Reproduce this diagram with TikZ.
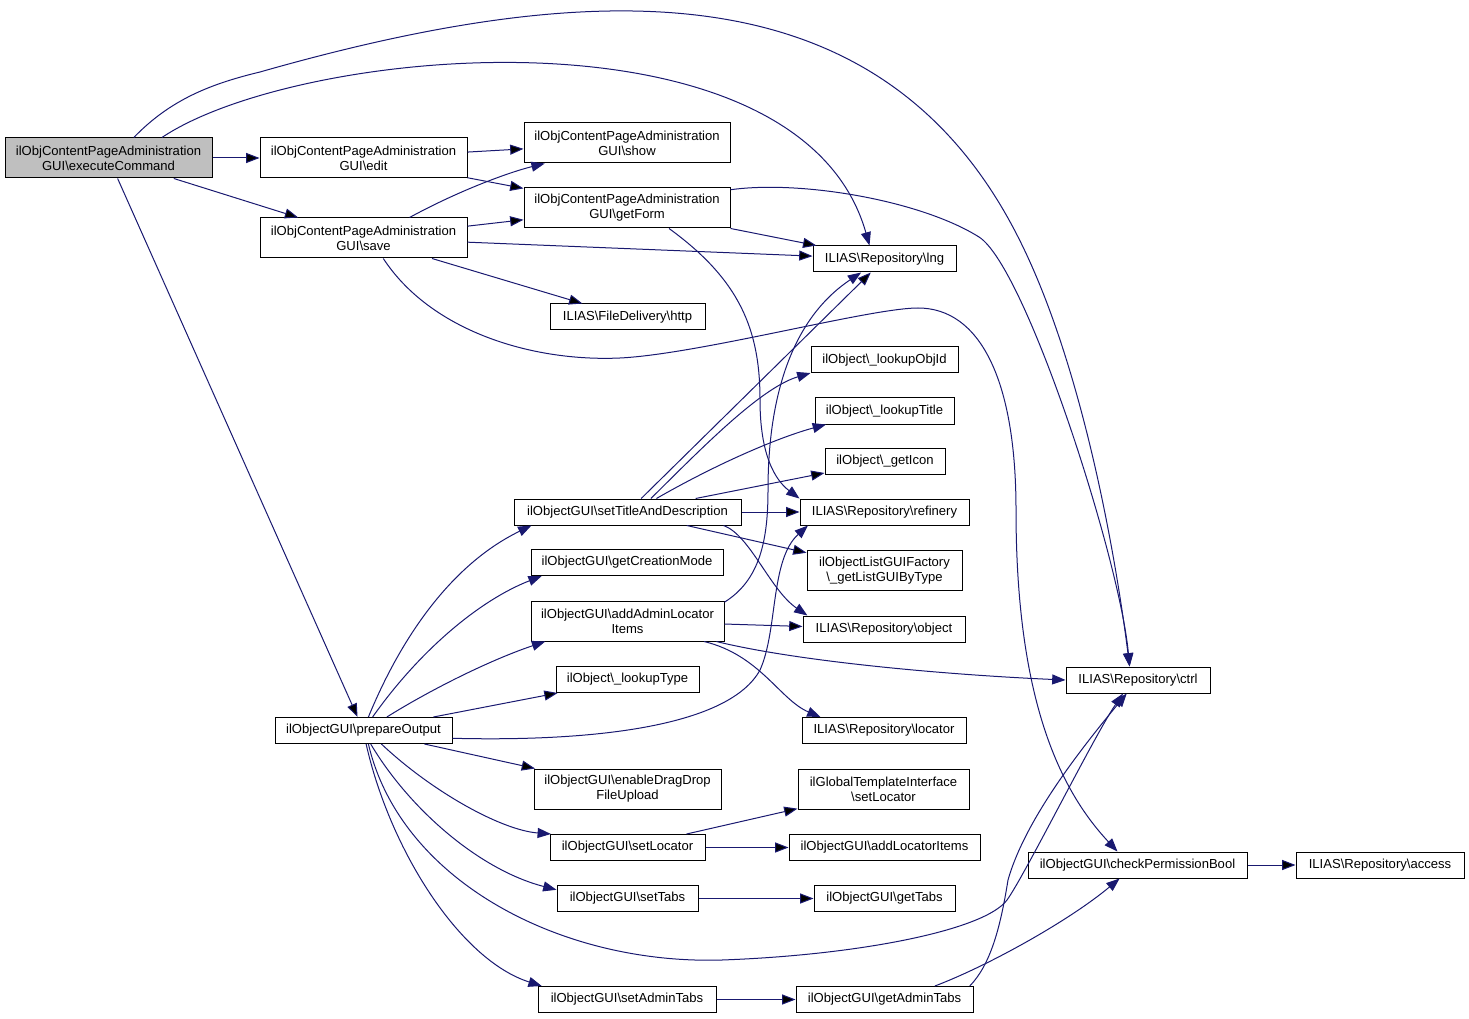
\documentclass[tikz,border=0pt]{standalone}
\usepackage{fontspec}
\setmainfont{Liberation Sans}
\usepackage{tikz}
\usetikzlibrary{arrows.meta}

\definecolor{edgeblue}{HTML}{191970}
\definecolor{rootgray}{HTML}{BFBFBF}
\newcommand{\bsl}{\textbackslash}

\tikzset{
  fn/.style={draw=black, fill=white, line width=0.75pt, rectangle, inner sep=0pt,
    align=center, minimum height=19.5pt, font=\fontsize{9.8}{11.25}\selectfont},
  two/.style={minimum height=30pt},
  wd/.style={minimum width=0.75pt*#1},
  call/.style={draw=edgeblue, line width=0.75pt, -{Triangle[length=10pt,width=7.5pt]}}
}

\begin{document}
\begin{tikzpicture}
  [x=0.75pt,y=-0.75pt]
  \useasboundingbox (0,0) rectangle (1469,1019);

  \node (exec) [fn, two, wd=207, fill=rootgray] at (108.5,158) {ilObjContentPageAdministration\\GUI\bsl executeCommand};
  \node (edit) [fn, two, wd=207] at (363.5,158) {ilObjContentPageAdministration\\GUI\bsl edit};
  \node (save) [fn, two, wd=207] at (363.5,238) {ilObjContentPageAdministration\\GUI\bsl save};
  \node (show) [fn, two, wd=206] at (627,143) {ilObjContentPageAdministration\\GUI\bsl show};
  \node (getForm) [fn, two, wd=206] at (627,208) {ilObjContentPageAdministration\\GUI\bsl getForm};
  \node (http) [fn, wd=155] at (627.5,317) {ILIAS\bsl FileDelivery\bsl http};
  \node (lng) [fn, wd=143] at (884.5,259) {ILIAS\bsl Repository\bsl lng};
  \node (lookupObjId) [fn, wd=147] at (884.5,360) {ilObject\bsl\_lookupObjId};
  \node (lookupTitle) [fn, wd=139] at (884.5,411) {ilObject\bsl\_lookupTitle};
  \node (getIcon) [fn, wd=120] at (885,461) {ilObject\bsl\_getIcon};
  \node (setTitle) [fn, wd=227] at (627.5,512) {ilObjectGUI\bsl setTitleAndDescription};
  \node (refinery) [fn, wd=169] at (884.5,512) {ILIAS\bsl Repository\bsl refinery};
  \node (listGUI) [fn, two, wd=155] at (884.5,570.5) {ilObjectListGUIFactory\\\bsl\_getListGUIByType};
  \node (creationMode) [fn, wd=192] at (627,562.5) {ilObjectGUI\bsl getCreationMode};
  \node (adminLocator) [fn, two, wd=193] at (627.5,621) {ilObjectGUI\bsl addAdminLocator\\Items};
  \node (object) [fn, wd=162] at (884,629) {ILIAS\bsl Repository\bsl object};
  \node (lookupType) [fn, wd=143] at (627.5,679.5) {ilObject\bsl\_lookupType};
  \node (ctrl) [fn, wd=144] at (1138,680) {ILIAS\bsl Repository\bsl ctrl};
  \node (prepare) [fn, wd=177] at (363.5,730.5) {ilObjectGUI\bsl prepareOutput};
  \node (locator) [fn, wd=164] at (884,730.5) {ILIAS\bsl Repository\bsl locator};
  \node (dragDrop) [fn, two, wd=187] at (627.5,789) {ilObjectGUI\bsl enableDragDrop\\FileUpload};
  \node (tplLocator) [fn, two, wd=171] at (883.5,789) {ilGlobalTemplateInterface\\\bsl setLocator};
  \node (setLocator) [fn, wd=155] at (627.5,847.5) {ilObjectGUI\bsl setLocator};
  \node (locatorItems) [fn, wd=191] at (884.5,847.5) {ilObjectGUI\bsl addLocatorItems};
  \node (permBool) [fn, wd=219] at (1137.5,865) {ilObjectGUI\bsl checkPermissionBool};
  \node (access) [fn, wd=168] at (1380,865) {ILIAS\bsl Repository\bsl access};
  \node (setTabs) [fn, wd=141] at (627.5,898.5) {ilObjectGUI\bsl setTabs};
  \node (getTabs) [fn, wd=141] at (884.5,898.5) {ilObjectGUI\bsl getTabs};
  \node (setAdminTabs) [fn, wd=178] at (627,999.5) {ilObjectGUI\bsl setAdminTabs};
  \node (getAdminTabs) [fn, wd=177] at (884.5,999.5) {ilObjectGUI\bsl getAdminTabs};

\draw [call] (exec) edge (edit) (exec) edge (save) (exec) edge (prepare) (edit) edge (show) (edit) edge (getForm) (save) edge (getForm) (save) edge (lng) (save) edge (http) (getForm) edge (lng) (setTitle) edge (lng) (setTitle) edge (getIcon) (setTitle) edge (refinery) (setTitle) edge (listGUI) (adminLocator) edge (object) (prepare) edge (lookupType) (prepare) edge (dragDrop) (setLocator) edge (tplLocator) (setLocator) edge (locatorItems) (setTabs) edge (getTabs) (setAdminTabs) edge (getAdminTabs) (permBool) edge (access);

\draw [call] (exec.21) .. controls (300,45) and (800,0) .. (lng.138);
\draw [call] (exec.39) .. controls (170,100) and (210,84) .. (260,72) .. controls (600,-25) and (880,-30) .. (1016,233) .. controls (1085,366) and (1118,573) .. (ctrl.122);
\draw [call] (save.24) .. controls (460,190) and (510,172) .. (show.194);
\draw [call] (save.-46) .. controls (430,330) and (530,362) .. (620,358) .. controls (700,354) and (870,308) .. (918,308) .. controls (980,308) and (1016,380) .. (1016,510) .. controls (1016,700) and (1060,790) .. (permBool.146);
\draw [call] (getForm.-26) .. controls (740,280) and (760,330) .. (760,400) .. controls (760,455) and (775,480) .. (refinery.171);
\draw [call] (getForm.10) .. controls (800,180) and (920,200) .. (979,237) .. controls (1026,267) and (1120,560) .. (ctrl.122);
\draw [call] (setTitle.30) .. controls (700,450) and (760,388) .. (lookupObjId.190);
\draw [call] (setTitle.25) .. controls (720,462) and (780,437) .. (lookupTitle.193);
\draw [call] (setTitle.-8) .. controls (750,535) and (770,590) .. (object.170);
\draw [call] (adminLocator.11) .. controls (760,580) and (768,540) .. (768,490) .. controls (768,400) and (790,320) .. (lng.210);
\draw [call] (adminLocator.-13) .. controls (800,662) and (950,675) .. (ctrl.west);
\draw [call] (adminLocator.-15) .. controls (760,655) and (780,700) .. (locator.168);
\draw [call] (prepare.70) .. controls (400,640) and (450,565) .. (setTitle.188);
\draw [call] (prepare.56) .. controls (420,650) and (480,600) .. (creationMode.189);
\draw [call] (prepare.30) .. controls (430,690) and (490,660) .. (adminLocator.194);
\draw [call] (prepare.-5) .. controls (600,742) and (730,725) .. (760,670) .. controls (778,630) and (770,560) .. (refinery.190);
\draw [call] (prepare.-37) .. controls (430,790) and (500,830) .. (setLocator.170);
\draw [call] (prepare.-62) .. controls (410,810) and (480,870) .. (setTabs.173);
\draw [call] (prepare.-79) .. controls (390,850) and (460,960) .. (setAdminTabs.171);
\draw [call] (prepare.-70) .. controls (400,880) and (560,965) .. (722,960) .. controls (860,955) and (985,930) .. (1007,900) .. controls (1025,875) and (1094,736) .. (ctrl.222);
\draw [call] (getAdminTabs.15) .. controls (990,965) and (1070,920) .. (permBool.217);
\draw [call] (getAdminTabs.9) .. controls (990,965) and (1000,930) .. (1008,880) .. controls (1025,820) and (1080,750) .. (ctrl.230);
\end{tikzpicture}
\end{document}
